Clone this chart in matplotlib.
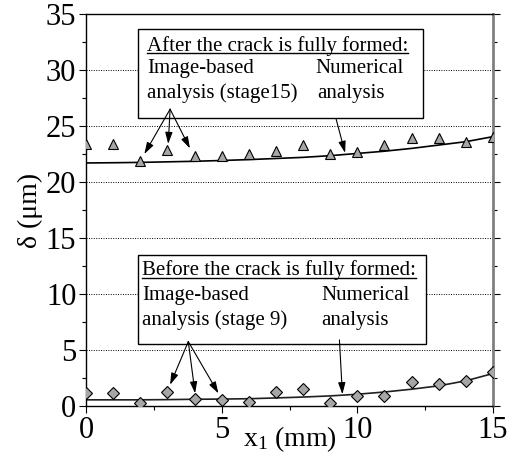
import matplotlib
matplotlib.use("Agg")
import matplotlib.pyplot as plt
from matplotlib.patches import Rectangle
from matplotlib.lines import Line2D
from matplotlib.ticker import MultipleLocator

plt.rcParams['font.family'] = ['Liberation Serif', 'DejaVu Serif']
plt.rcParams['mathtext.fontset'] = 'custom'
plt.rcParams['mathtext.rm'] = 'Liberation Serif'
plt.rcParams['mathtext.it'] = 'Liberation Serif'

# Data
x_pts = list(range(16))
after_img = [23.4, 23.4, 21.9, 22.9, 22.3, 22.3, 22.5, 22.8,
             23.3, 22.5, 22.7, 23.3, 23.9, 23.9, 23.6, 24.0]
before_img = [1.2, 1.2, 0.3, 1.25, 0.6, 0.55, 0.35, 1.25,
              1.55, 0.3, 0.9, 0.9, 2.15, 1.95, 2.25, 3.0]
x_curve = list(range(16))
after_num = [21.7, 21.72, 21.75, 21.8, 21.85, 21.92, 22.0, 22.1,
             22.2, 22.35, 22.55, 22.75, 23.0, 23.3, 23.6, 24.05]
before_num = [0.55, 0.55, 0.55, 0.57, 0.6, 0.62, 0.65, 0.72,
              0.8, 0.9, 1.05, 1.25, 1.5, 1.8, 2.25, 2.9]

fig = plt.figure(figsize=(5.08, 4.59), dpi=100)
ax = fig.add_axes([86/508, 53/459, 407/508, 392/459])

ax.plot(x_curve, after_num, color='black', lw=1.2, zorder=2)
ax.plot(x_curve, before_num, color='#202020', lw=1.2, zorder=2)
ax.plot(x_pts, after_img, linestyle='none', marker='^', ms=6.5,
        mfc='#a6a6a6', mec='black', mew=0.8, zorder=4)
ax.plot(x_pts, before_img, linestyle='none', marker='D', ms=6,
        mfc='#a6a6a6', mec='black', mew=0.8, zorder=4)

ax.set_xlim(0, 15)
ax.set_ylim(0, 35)
ax.xaxis.set_major_locator(MultipleLocator(5))
ax.xaxis.set_minor_locator(MultipleLocator(2.5))
ax.yaxis.set_major_locator(MultipleLocator(5))
ax.yaxis.set_minor_locator(MultipleLocator(2.5))
ax.tick_params(axis='both', which='major', direction='out', length=5,
               width=0.8, labelsize=22, pad=2)
ax.tick_params(axis='both', which='minor', direction='out', length=3, width=0.8)
ax.tick_params(axis='y', which='both', right=True, color='black')
ax.spines['right'].set_color('#808080')
ax.spines['right'].set_linewidth(2)
for s in ['left', 'top', 'bottom']:
    ax.spines[s].set_linewidth(1.0)
ax.yaxis.grid(True, which='major', linestyle=(0, (1, 1.5)), color='black', lw=0.7)
ax.set_axisbelow(True)

ax.set_xlabel(r'x$_{\mathrm{1}}$ (mm)', fontsize=20, labelpad=-15)
ax.set_ylabel('δ (μm)', fontsize=20, labelpad=2)

# Boxes
box_after = Rectangle((0.128, 0.735), 0.700, 0.227, transform=ax.transAxes,
                      facecolor='white', edgecolor='black', lw=1.0, zorder=5)
box_before = Rectangle((0.128, 0.158), 0.707, 0.227, transform=ax.transAxes,
                       facecolor='white', edgecolor='black', lw=1.0, zorder=5)
ax.add_patch(box_after)
ax.add_patch(box_before)

fs = 15
t1 = ax.text(0.150, 0.906, 'After the crack is fully formed:', transform=ax.transAxes,
             fontsize=fs, zorder=6, va='baseline')
ax.text(0.150, 0.850, 'Image-based', transform=ax.transAxes, fontsize=fs, zorder=6, va='baseline')
ax.text(0.150, 0.786, 'analysis (stage15)', transform=ax.transAxes, fontsize=fs, zorder=6, va='baseline')
ax.text(0.563, 0.850, 'Numerical', transform=ax.transAxes, fontsize=fs, zorder=6, va='baseline')
ax.text(0.567, 0.786, 'analysis', transform=ax.transAxes, fontsize=fs, zorder=6, va='baseline')

t2 = ax.text(0.137, 0.334, 'Before the crack is fully formed:', transform=ax.transAxes,
             fontsize=fs, zorder=6, va='baseline')
ax.text(0.137, 0.270, 'Image-based', transform=ax.transAxes, fontsize=fs, zorder=6, va='baseline')
ax.text(0.137, 0.206, 'analysis (stage 9)', transform=ax.transAxes, fontsize=fs, zorder=6, va='baseline')
ax.text(0.579, 0.270, 'Numerical', transform=ax.transAxes, fontsize=fs, zorder=6, va='baseline')
ax.text(0.579, 0.206, 'analysis', transform=ax.transAxes, fontsize=fs, zorder=6, va='baseline')

# Arrows
arrow_kw = dict(arrowstyle='-|>,head_length=0.7,head_width=0.22', color='black', lw=0.8,
                shrinkA=0, shrinkB=0)
for tip in [(2.15, 22.5), (3.03, 23.4), (3.83, 23.0)]:
    ax.annotate('', xy=tip, xytext=(3.1, 26.5), arrowprops=arrow_kw, zorder=6)
ax.annotate('', xy=(9.55, 22.6), xytext=(9.22, 25.6), arrowprops=arrow_kw, zorder=6)
for tip in [(3.1, 1.9), (4.02, 1.13), (4.88, 1.13)]:
    ax.annotate('', xy=tip, xytext=(3.77, 5.75), arrowprops=arrow_kw, zorder=6)
ax.annotate('', xy=(9.45, 1.05), xytext=(9.34, 5.9), arrowprops=arrow_kw, zorder=6)

# Underlines
fig.canvas.draw()
r = fig.canvas.get_renderer()
for t in (t1, t2):
    bb = t.get_window_extent(renderer=r)
    x0, y0 = t.get_transform().transform(t.get_position())
    yl = y0 - 2.5
    line = Line2D([bb.x0, bb.x1], [yl, yl], transform=None, color='black', lw=1.0, zorder=7)
    fig.add_artist(line)

fig.savefig('out.png', dpi=100)
